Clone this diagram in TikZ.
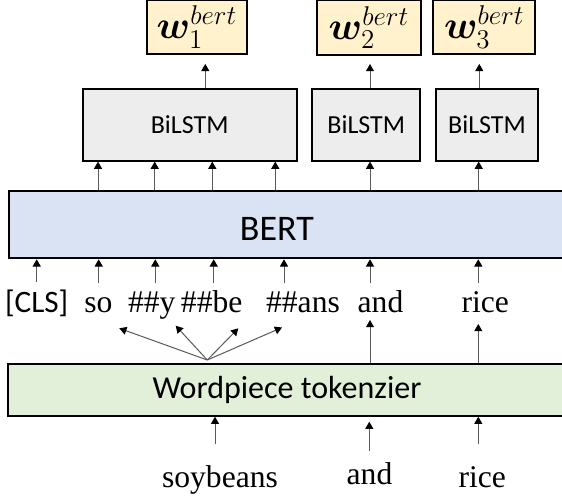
\documentclass[tikz,border=0pt]{standalone}
\usepackage{amsmath}
\usepackage{bm}
\usepackage{fontspec}
\setmainfont{Liberation Serif}
\setsansfont{Carlito}
\usetikzlibrary{arrows.meta,positioning}

\newcommand{\wbert}[1]{\scalebox{1.13}{$\bm{w}_{#1}^{bert}$}}

\begin{document}
\begin{tikzpicture}[x=0.5pt,y=-0.5pt,
    box/.style={draw=black, line width=1pt, inner sep=0pt},
    outbox/.style={box, fill=outyellow, minimum height=26.7pt, font=\fontsize{17.28}{20}\selectfont},
    lstmbox/.style={box, fill=lstmgray, minimum height=35.8pt, font=\sffamily\fontsize{13}{15}\selectfont},
    layerbox/.style={box, anchor=west, minimum width=290pt},
    layertext/.style={inner sep=0pt, anchor=base, font=\sffamily\fontsize{16}{18}\selectfont},
    token/.style={inner sep=0pt, anchor=base, font=\fontsize{15.8}{18}\selectfont},
    arr/.style={draw=arrgray, line width=0.5pt, -{Triangle[width=4pt,length=3.6pt,black]}}
]
    % Define colors
    \definecolor{outyellow}{HTML}{FFF2CC}
    \definecolor{lstmgray}{HTML}{EDEDED}
    \definecolor{bertblue}{HTML}{DAE3F3}
    \definecolor{tokgreen}{HTML}{E2F0D9}
    \definecolor{arrgray}{HTML}{595959}

    \useasboundingbox (0,0) rectangle (562,499);

    % Output embeddings
    \node[outbox, minimum width=50.3pt] (wone) at (197,27) {\wbert{1}};
    \node[outbox, minimum width=51.7pt, minimum height=27.5pt] (wtwo) at (369,27.5) {\wbert{2}};
    \node[outbox, minimum width=51pt] (wthree) at (484.3,27) {\wbert{3}};

    % BiLSTM layers
    \node[lstmbox, minimum width=107pt] (lstmone) at (189.7,124.8) {BiLSTM};
    \node[lstmbox, minimum width=54pt] (lstmtwo) at (366.3,124.8) {BiLSTM};
    \node[lstmbox, minimum width=51pt] (lstmthree) at (487,124.8) {BiLSTM};

    % BERT and tokenizer (running off the right edge)
    \node[layerbox, fill=bertblue, minimum height=33.8pt] (bert) at (8.3,224.5) {};
    \node[layertext, font=\sffamily\fontsize{18}{20}\selectfont] (bertlabel) at (276.9,240) {BERT};
    \node[layerbox, fill=tokgreen, minimum height=25.7pt] (wordpiece) at (7.3,390) {};
    \node[layertext] (wordpiecelabel) at (287,398.3) {Wordpiece tokenzier};

    % Tokens
    \node[token, font=\sffamily\fontsize{15.6}{18}\selectfont] (cls) at (36.7,312.5) {[CLS]};
    \node[token] (so) at (98.3,312.5) {so};
    \node[token] (y) at (151.7,312.5) {\#\#y};
    \node[token] (be) at (211.7,312.5) {\#\#be};
    \node[token] (ans) at (303,312.5) {\#\#ans};
    \node[token] (tand) at (380.5,312.5) {and};
    \node[token] (trice) at (485.2,312.5) {rice};

    % Input words
    \node[token] (soybeans) at (220,487.3) {soybeans};
    \node[token] (wand) at (369.5,484.3) {and};
    \node[token] (wrice) at (482.2,487) {rice};

    % BiLSTM -> outputs
    \draw[arr, shorten >=4.6pt] (lstmone.north -| 205.3,0) -- (wone.south -| 205.3,0);
    \draw[arr, shorten >=4pt] (lstmtwo.north -| 370,0) -- (wtwo.south -| 370,0);
    \draw[arr, shorten >=4.6pt] (lstmthree.north -| 479.3,0) -- (wthree.south -| 479.3,0);

    % BERT -> BiLSTM
    \foreach \x in {98,154.7,212.3,275.3}
        \draw[arr] (bert.north -| \x,0) -- (lstmone.south -| \x,0);
    \draw[arr] (bert.north -| 370,0) -- (lstmtwo.south -| 370,0);
    \draw[arr] (bert.north -| 478.7,0) -- (lstmthree.south -| 478.7,0);

    % Tokens -> BERT
    \foreach \x/\y in {36.7/281.7, 98.7/283.3, 155.3/283.3, 213.7/283.3, 284/283.3, 370/283.3, 478.3/283.3}
        \draw[arr] (\x,\y) -- (bert.south -| \x,0);

    % Tokenizer -> tokens
    \coordinate (fan) at (207.3,360);
    \foreach \x/\y in {119.3/328.3, 175.7/325.7, 238.3/328.3, 282/327.5}
        \draw[arr] (fan) -- (\x,\y);
    \draw[arr] (wordpiece.north -| 370,0) -- (370,320);
    \draw[arr] (wordpiece.north -| 478.3,0) -- (478.3,324);

    % Words -> tokenizer
    \draw[arr] (215,444.3) -- (wordpiece.south -| 215,0);
    \draw[arr, shorten >=2.5pt] (369.3,451) -- (wordpiece.south -| 369.3,0);
    \draw[arr] (478.3,444.3) -- (wordpiece.south -| 478.3,0);
\end{tikzpicture}
\end{document}
